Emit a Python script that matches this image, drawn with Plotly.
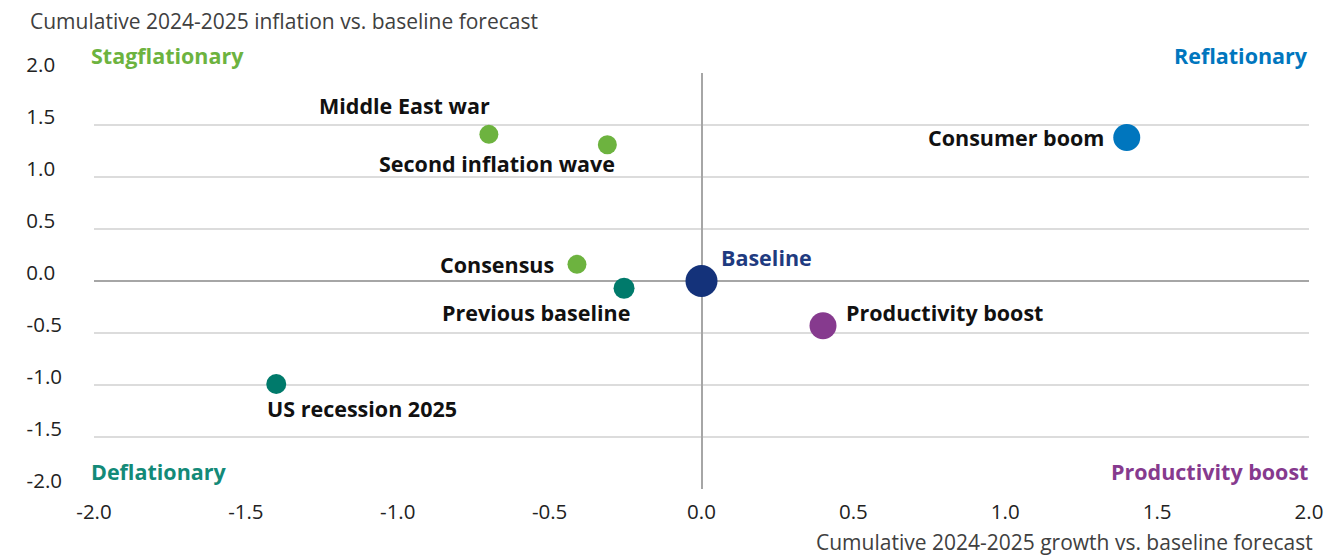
import plotly.graph_objects as go

# Data
scenarios = ["Middle East war", "Second inflation wave", "Consumer boom", "Consensus",
             "Previous baseline", "Baseline", "Productivity boost", "US recession 2025"]
growth = [-0.70, -0.31, 1.40, -0.41, -0.255, 0.0, 0.40, -1.40]
inflation = [1.41, 1.31, 1.38, 0.16, -0.07, 0.0, -0.43, -0.99]
colors = ["#6DB33F", "#6DB33F", "#0076BE", "#6DB33F", "#007A6B", "#14327A", "#863A8E", "#007A6B"]
sizes = [19, 19, 27, 19, 21, 32, 27, 20]
label_colors = ["#111111"] * 5 + ["#1F3B80"] + ["#111111"] * 2
# label placement: (xanchor, xshift, yshift)
label_pos = [("right", 3, 29), ("right", 10, -19), ("right", -21, 0), ("right", -21, 0),
             ("right", 8, -24), ("left", 17, 24), ("left", 21, 13), ("left", -11, -25)]

quadrants = ["Stagflationary", "Reflationary", "Deflationary", "Productivity boost"]
quad_colors = ["#6DB33F", "#0076BE", "#138A78", "#863A8E"]

ticks = [-2.0, -1.5, -1.0, -0.5, 0.0, 0.5, 1.0, 1.5, 2.0]
x_tick_text = [f"{t:.1f}" for t in ticks]
y_tick_text = [f"{t:.1f}" if t < 0 else f"{t:.1f}\u2009\u2009" for t in ticks]

FONT = "Open Sans"
LBL = 21.5

fig = go.Figure()
fig.add_trace(go.Scatter(
    x=growth, y=inflation, mode="markers",
    marker=dict(size=sizes, color=colors, opacity=1, line=dict(width=0)),
    hovertext=scenarios, hoverinfo="text", showlegend=False, cliponaxis=False,
))

annotations = []
for name, gx, iy, lc, (xa, xs, ys) in zip(scenarios, growth, inflation, label_colors, label_pos):
    annotations.append(dict(
        x=gx, y=iy, xref="x", yref="y", text=f"<b>{name}</b>", showarrow=False,
        xanchor=xa, yanchor="middle", xshift=xs, yshift=ys,
        font=dict(family=FONT, size=LBL, color=lc),
    ))

quad_pos = [(0, 1, "left", "bottom"), (1, 1, "right", "bottom"),
            (0, 0, "left", "bottom"), (1, 0, "right", "bottom")]
for q, qc, (px, py, xa, ya) in zip(quadrants, quad_colors, quad_pos):
    annotations.append(dict(
        x=px, y=py, xref="paper", yref="paper", text=f"<b>{q}</b>", showarrow=False,
        xanchor=xa, yanchor=ya, xshift=-5 if xa == "left" else 1, yshift=1,
        font=dict(family=FONT, size=LBL, color=qc),
    ))

annotations.append(dict(
    x=0, y=1, xref="paper", yref="paper", xanchor="left", yanchor="bottom",
    xshift=-66, yshift=36, showarrow=False,
    text="Cumulative 2024-2025 inflation vs. baseline forecast",
    font=dict(family=FONT, size=21, color="#404040"),
))
annotations.append(dict(
    x=1, y=0, xref="paper", yref="paper", xanchor="right", yanchor="top",
    xshift=6, yshift=-37, showarrow=False,
    text="Cumulative 2024-2025 growth vs. baseline forecast",
    font=dict(family=FONT, size=21, color="#404040"),
))

fig.update_layout(
    width=1335, height=557,
    margin=dict(l=94, r=19, t=73, b=68),
    paper_bgcolor="white", plot_bgcolor="white",
    font=dict(family=FONT, size=20.5, color="#222222"),
    annotations=annotations,
    xaxis=dict(range=[-2, 2], tickvals=ticks, ticktext=x_tick_text, showgrid=False,
               zeroline=True, zerolinecolor="#A6A6A6", zerolinewidth=2,
               showline=False, ticks="", ticklabelstandoff=8, fixedrange=True),
    yaxis=dict(range=[-2, 2], tickvals=ticks, ticktext=y_tick_text, showgrid=True,
               gridcolor="#DCDCDC", gridwidth=1.5,
               zeroline=True, zerolinecolor="#A6A6A6", zerolinewidth=2,
               showline=False, ticks="", ticklabelstandoff=31, ticklabelshift=-8,
               fixedrange=True),
)

fig.write_html("out.html")
